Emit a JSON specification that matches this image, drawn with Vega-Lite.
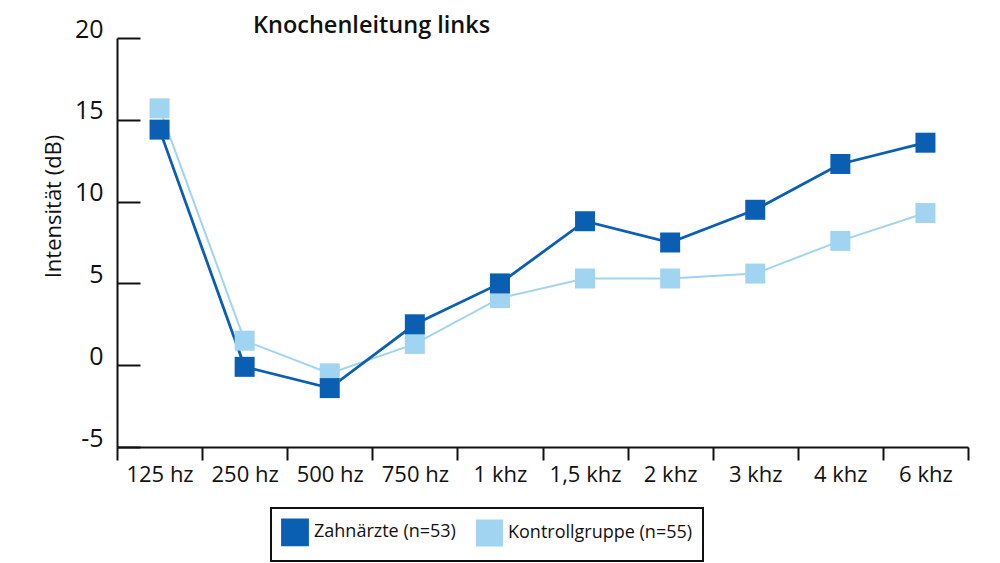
{
  "$schema": "https://vega.github.io/schema/vega-lite/v6.json",
  "description": "Knochenleitung links: Zahnärzte vs. Kontrollgruppe",
  "width": 851,
  "height": 409,
  "autosize": {"type": "none"},
  "padding": {"left": 117, "top": 38, "right": 32, "bottom": 116},
  "background": "white",
  "config": {
    "view": {"stroke": null},
    "font": "Open Sans"
  },
  "title": {
    "text": "Knochenleitung links",
    "anchor": "start",
    "frame": "group",
    "dx": 136,
    "dy": 28,
    "offset": 8,
    "font": "Open Sans",
    "fontSize": 23.5,
    "fontWeight": 600,
    "color": "#111111"
  },
  "data": {
    "values": [
      {"freq": "125 hz", "gruppe": "Kontrollgruppe (n=55)", "db": 15.7},
      {"freq": "250 hz", "gruppe": "Kontrollgruppe (n=55)", "db": 1.5},
      {"freq": "500 hz", "gruppe": "Kontrollgruppe (n=55)", "db": -0.5},
      {"freq": "750 hz", "gruppe": "Kontrollgruppe (n=55)", "db": 1.3},
      {"freq": "1 khz", "gruppe": "Kontrollgruppe (n=55)", "db": 4.1},
      {"freq": "1,5 khz", "gruppe": "Kontrollgruppe (n=55)", "db": 5.3},
      {"freq": "2 khz", "gruppe": "Kontrollgruppe (n=55)", "db": 5.3},
      {"freq": "3 khz", "gruppe": "Kontrollgruppe (n=55)", "db": 5.6},
      {"freq": "4 khz", "gruppe": "Kontrollgruppe (n=55)", "db": 7.6},
      {"freq": "6 khz", "gruppe": "Kontrollgruppe (n=55)", "db": 9.3},
      {"freq": "125 hz", "gruppe": "Zahnärzte (n=53)", "db": 14.4},
      {"freq": "250 hz", "gruppe": "Zahnärzte (n=53)", "db": -0.1},
      {"freq": "500 hz", "gruppe": "Zahnärzte (n=53)", "db": -1.4},
      {"freq": "750 hz", "gruppe": "Zahnärzte (n=53)", "db": 2.5},
      {"freq": "1 khz", "gruppe": "Zahnärzte (n=53)", "db": 5.0},
      {"freq": "1,5 khz", "gruppe": "Zahnärzte (n=53)", "db": 8.8},
      {"freq": "2 khz", "gruppe": "Zahnärzte (n=53)", "db": 7.5},
      {"freq": "3 khz", "gruppe": "Zahnärzte (n=53)", "db": 9.5},
      {"freq": "4 khz", "gruppe": "Zahnärzte (n=53)", "db": 12.3},
      {"freq": "6 khz", "gruppe": "Zahnärzte (n=53)", "db": 13.6}
    ]
  },
  "mark": {
    "type": "line",
    "point": {"shape": "square", "filled": true, "size": 400, "opacity": 1}
  },
  "encoding": {
    "x": {
      "field": "freq",
      "type": "ordinal",
      "sort": ["125 hz", "250 hz", "500 hz", "750 hz", "1 khz", "1,5 khz", "2 khz", "3 khz", "4 khz", "6 khz"],
      "scale": {"type": "band", "paddingInner": 0, "paddingOuter": 0},
      "axis": {
        "title": null,
        "labelAngle": 0,
        "tickBand": "extent",
        "tickSize": 13,
        "tickWidth": 2,
        "tickColor": "#111111",
        "domainColor": "#111111",
        "domainWidth": 2,
        "labelPadding": 4,
        "labelFont": "Open Sans",
        "labelFontSize": 22,
        "labelColor": "#111111"
      }
    },
    "y": {
      "field": "db",
      "type": "quantitative",
      "scale": {"domain": [-5, 20], "nice": false, "zero": false},
      "axis": {
        "title": "Intensität (dB)",
        "values": [-5, 0, 5, 10, 15, 20],
        "labelExpr": "'' + datum.value",
        "grid": false,
        "tickSize": -23,
        "tickWidth": 2,
        "tickColor": "#111111",
        "domainColor": "#111111",
        "domainWidth": 2,
        "labelPadding": 37,
        "labelOffset": -9,
        "labelFont": "Open Sans",
        "labelFontSize": 25,
        "labelColor": "#111111",
        "titleFont": "Open Sans",
        "titleFontSize": 22,
        "titleFontWeight": "normal",
        "titleColor": "#111111",
        "titleX": -64,
        "titleY": 168,
        "titleBaseline": "middle"
      }
    },
    "color": {
      "field": "gruppe",
      "type": "nominal",
      "scale": {
        "domain": ["Zahnärzte (n=53)", "Kontrollgruppe (n=55)"],
        "range": ["#0b5fb3", "#a0d4f0"]
      },
      "legend": {
        "orient": "none",
        "legendX": 154,
        "legendY": 470,
        "direction": "horizontal",
        "title": null,
        "padding": 10,
        "strokeColor": "#111111",
        "symbolType": "square",
        "symbolSize": 625,
        "symbolStrokeWidth": 0,
        "labelFont": "Open Sans",
        "labelFontSize": 18,
        "labelLimit": 400,
        "labelColor": "#111111",
        "labelOffset": 5,
        "columnPadding": 17,
        "encode": {
          "legend": {"update": {"strokeWidth": {"value": 2}}},
          "symbols": {"update": {"fill": {"scale": "color", "field": "value"}, "opacity": {"value": 1}}}
        }
      }
    },
    "strokeWidth": {
      "field": "gruppe",
      "type": "nominal",
      "scale": {
        "domain": ["Zahnärzte (n=53)", "Kontrollgruppe (n=55)"],
        "range": [2.8, 2]
      },
      "legend": null
    }
  }
}
